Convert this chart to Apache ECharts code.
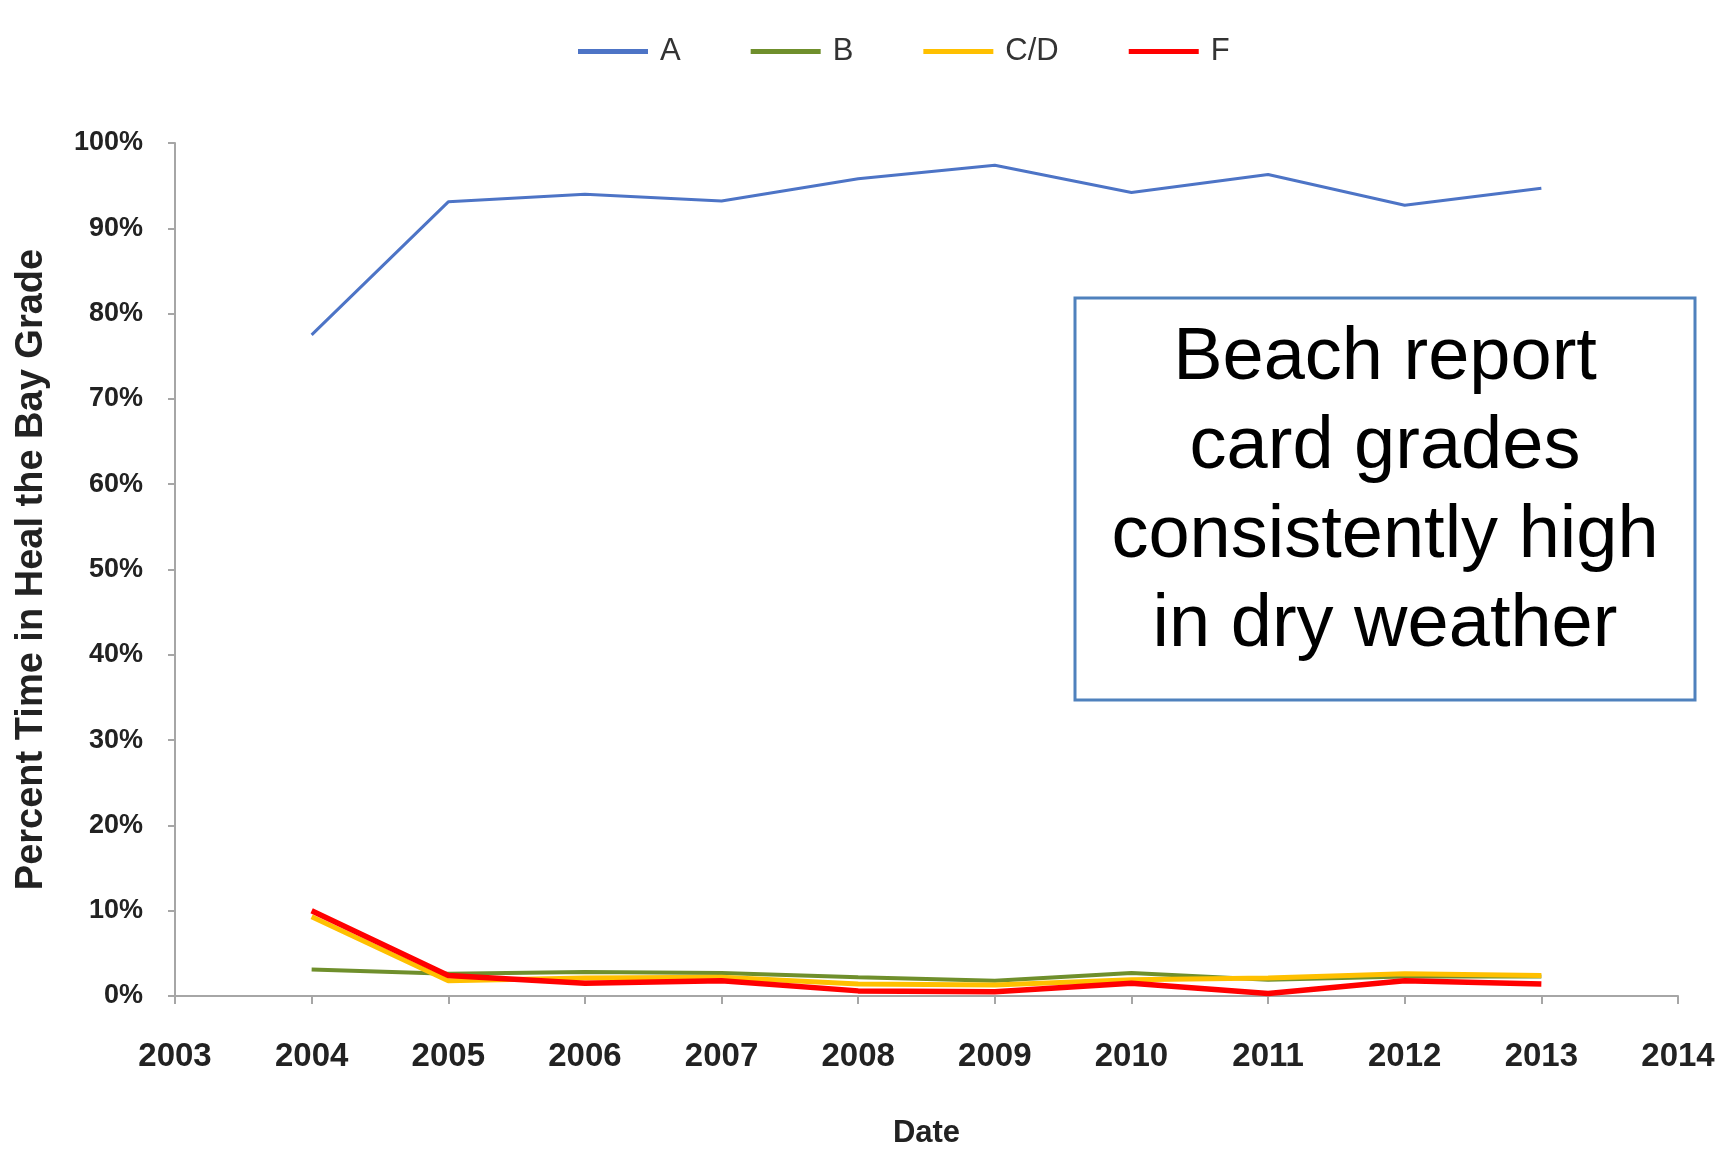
<!DOCTYPE html>
<html>
<head>
<meta charset="utf-8">
<script src="https://cdn.jsdelivr.net/npm/echarts@6/dist/echarts.min.js"></script>
<style>
  html, body { margin: 0; padding: 0; background: #fff; }
  #chart { width: 1720px; height: 1153px; }
</style>
</head>
<body>
<div id="chart"></div>
<script>
// 年份 (x 轴)
var years = [2004, 2005, 2006, 2007, 2008, 2009, 2010, 2011, 2012, 2013];
// 各等级所占时间百分比
var gradeA  = [77.5, 93.1, 94.0, 93.2, 95.8, 97.4, 94.2, 96.3, 92.7, 94.7];
var gradeB  = [3.1, 2.6, 2.8, 2.7, 2.2, 1.8, 2.7, 1.9, 2.3, 2.3];
var gradeCD = [9.3, 1.8, 2.1, 2.2, 1.4, 1.3, 1.9, 2.1, 2.6, 2.4];
var gradeF  = [10.0, 2.4, 1.5, 1.8, 0.6, 0.5, 1.5, 0.3, 1.8, 1.4];
var seriesNames = ["A", "B", "C/D", "F"];
var noteLines = ["Beach report", "card grades", "consistently high", "in dry weather"];

function pairs(vals) {
  return years.map(function(y, i) { return [y, vals[i]]; });
}

var lineDefs = [
  { data: gradeA,  color: "#4d74c6", width: 3 },
  { data: gradeB,  color: "#6f8f2c", width: 4 },
  { data: gradeCD, color: "#ffc000", width: 5 },
  { data: gradeF,  color: "#ff0000", width: 5.5 }
];

var axisGrey = "#a6a6a6";
var labelFont = "Liberation Sans";

var myChart = echarts.init(document.getElementById("chart"));
var option = {
  backgroundColor: "#ffffff",
  animation: false,
  legend: {
    left: 573,
    top: 31,
    // 图例用细长矩形代替带圆点的折线
    icon: "rect",
    itemWidth: 70,
    itemHeight: 5,
    itemGap: 70,
    textStyle: { fontFamily: labelFont, fontSize: 31, color: "#333", padding: [0, 0, 0, 7] },
    data: seriesNames
  },
  grid: { left: 175, right: 42, top: 143, bottom: 157, outerBoundsMode: "none" },
  xAxis: {
    type: "value",
    min: 2003,
    max: 2014,
    interval: 1,
    name: "Date",
    nameLocation: "middle",
    nameGap: 122,
    nameTextStyle: { fontFamily: labelFont, fontSize: 31, fontWeight: "bold", color: "#222" },
    splitLine: { show: false },
    axisLine: { lineStyle: { color: axisGrey, width: 2 } },
    axisTick: { length: 8, lineStyle: { color: axisGrey, width: 2 } },
    axisLabel: {
      margin: 44,
      fontFamily: labelFont,
      fontSize: 33,
      fontWeight: "bold",
      color: "#222",
      formatter: function(v) { return String(v); }
    }
  },
  yAxis: {
    type: "value",
    min: 0,
    max: 100,
    interval: 10,
    name: "Percent Time in Heal the Bay Grade",
    nameLocation: "middle",
    nameGap: 124,
    nameTextStyle: { fontFamily: labelFont, fontSize: 38, fontWeight: "bold", color: "#222" },
    splitLine: { show: false },
    axisLine: { show: true, lineStyle: { color: axisGrey, width: 2 } },
    axisTick: { show: true, length: 7, lineStyle: { color: axisGrey, width: 2 } },
    axisLabel: {
      margin: 32,
      fontFamily: labelFont,
      fontSize: 27,
      fontWeight: "bold",
      color: "#222",
      formatter: "{value}%"
    }
  },
  series: lineDefs.map(function(d, i) {
    return {
      name: seriesNames[i],
      type: "line",
      symbol: "none",
      data: pairs(d.data),
      lineStyle: { color: d.color, width: d.width },
      itemStyle: { color: d.color }
    };
  }),
  graphic: [
    {
      type: "rect",
      shape: { x: 1075, y: 298, width: 620, height: 402 },
      style: { fill: "#fff", stroke: "#4f81bd", lineWidth: 3 }
    },
    {
      type: "text",
      x: 1385,
      y: 492,
      style: {
        text: noteLines.join("\n"),
        fontFamily: labelFont,
        fontSize: 74,
        lineHeight: 89,
        fill: "#000",
        align: "center",
        verticalAlign: "middle"
      }
    }
  ]
};
myChart.setOption(option);
</script>
</body>
</html>
